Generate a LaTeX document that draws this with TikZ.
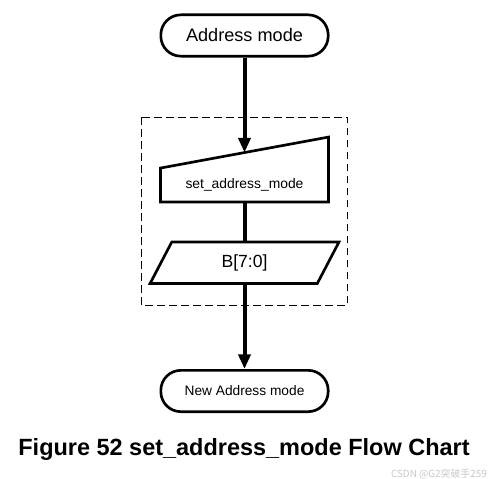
\documentclass[tikz,border=0pt]{standalone}
\usepackage{fontspec}
\setmainfont{Liberation Sans}
\newfontfamily\cjkfont{Noto Sans CJK SC}
\usetikzlibrary{arrows.meta, positioning}

\begin{document}
\begin{tikzpicture}[
  x=0.75pt, y=-0.75pt,
  term/.style={draw, line width=2pt, rounded corners=15pt, minimum width=125.5pt, minimum height=31pt, inner sep=0pt},
  flow/.style={line width=3pt, -{Triangle[width=9pt,length=11pt]}},
  link/.style={line width=3pt},
  outline/.style={draw, line width=2pt, line join=miter},
  group/.style={draw, line width=0.75pt, dash pattern=on 5.5pt off 3.5pt}
]
\useasboundingbox (0,0) rectangle (491,478);
\draw[group] (141,117.3) rectangle (347.7,305);
\node[term, font=\fontsize{13.6}{16}\selectfont] (start) at (244.5,35.5) {Address mode};
\node[minimum width=125.7pt, minimum height=25pt, inner sep=0pt, font=\fontsize{10.4}{12}\selectfont] (manual) at (244.5,185) {set\_address\_mode};
\draw[outline] (manual.south west) -- (manual.north west) -- coordinate (manualtop) ([yshift=23.25pt]manual.north east) -- (manual.south east) -- cycle;
\node[minimum width=125pt, minimum height=30.75pt, inner sep=0pt, font=\fontsize{13.2}{16}\selectfont] (data) at (244.5,262.8) {B[7:0]};
\draw[outline] ([xshift=8.14pt]data.north west) -- ([xshift=8.14pt]data.north east) -- ([xshift=-8.14pt]data.south east) -- ([xshift=-8.14pt]data.south west) -- cycle;
\node[term, font=\fontsize{10.3}{12}\selectfont] (stop) at (244.5,391) {New Address mode};
\draw[flow] (start.south) -- (manualtop);
\draw[link] (manual.south) -- (data.north);
\draw[flow] (data.south) -- (stop.north);
\node[font=\bfseries\fontsize{17.6}{20}\selectfont, anchor=base] (caption) at (244,455) {Figure 52 set\_address\_mode Flow Chart};
\node[font=\cjkfont\fontsize{7.4}{9}\selectfont, text=black!22, anchor=east, inner sep=0pt] (mark) at (487,474) {CSDN @G2突破手259};
\end{tikzpicture}
\end{document}
